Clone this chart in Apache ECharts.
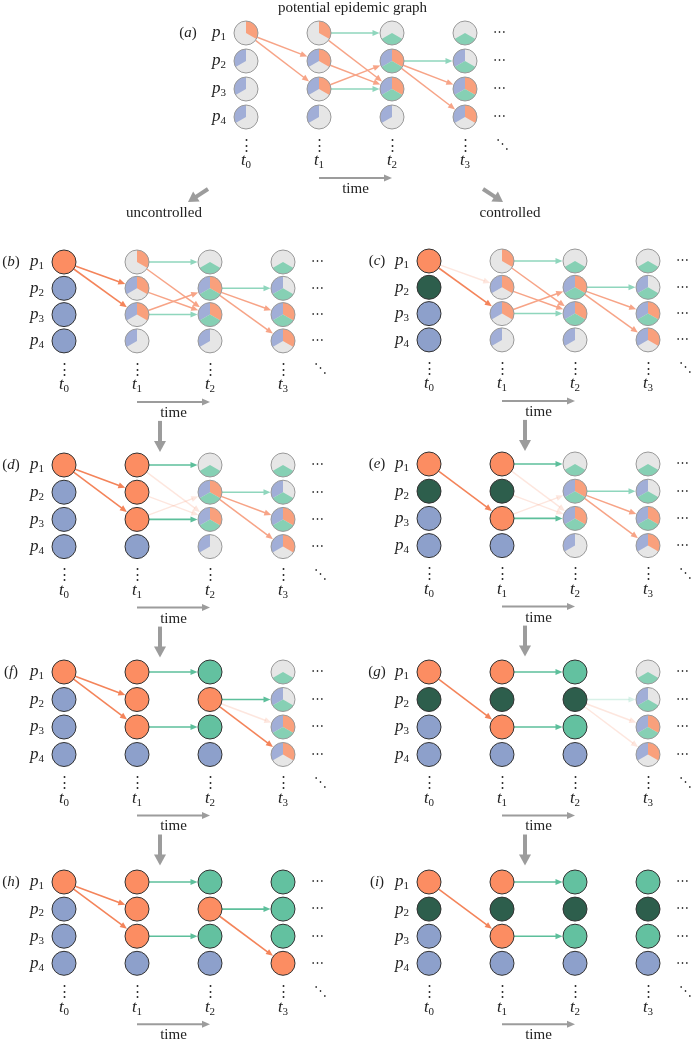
<!DOCTYPE html>
<html><head><meta charset="utf-8">
<script src="https://cdn.jsdelivr.net/npm/echarts@6/dist/echarts.min.js"></script>
<style>html,body{margin:0;padding:0;background:#fff}#c{width:696px;height:1043px}</style>
</head><body><div id="c"></div>
<script>
// ---------- data ----------
const personTicks = [1, 2, 3, 4];
const timeTicks = [0, 1, 2, 3];
const panelIds = ['a', 'b', 'c', 'd', 'e', 'f', 'g', 'h', 'i'];
const titleText = 'potential epidemic graph';
const branchLabels = ['uncontrolled', 'controlled'];
const timeLabel = 'time';

// node states, one array per time column (t0..t3), rows p1..p4
// I infected, S susceptible, R recovered, V vaccinated (full states)
// combos of o/b/g = potential states (orange / blue / green sectors)
const nodesA = [['o','b','b','b'], ['o','bo','bo','b'], ['g','bog','bog','b'], ['g','bg','bog','bo']];
const nodesB = [['I','S','S','S'], ['o','bo','bo','b'], ['g','bog','bog','b'], ['g','bg','bog','bo']];
const nodesC = [['I','V','S','S'], ['o','bo','bo','b'], ['g','bog','bog','b'], ['g','bg','bog','bo']];
const nodesD = [['I','S','S','S'], ['I','I','I','S'], ['g','bog','bog','b'], ['g','bg','bog','bo']];
const nodesE = [['I','V','S','S'], ['I','V','I','S'], ['g','bog','bog','b'], ['g','bg','bog','bo']];
const nodesF = [['I','S','S','S'], ['I','I','I','S'], ['R','I','R','S'], ['g','bg','bog','bo']];
const nodesG = [['I','V','S','S'], ['I','V','I','S'], ['R','V','R','S'], ['g','bg','bog','bo']];
const nodesH = [['I','S','S','S'], ['I','I','I','S'], ['R','I','R','S'], ['R','R','R','I']];
const nodesI = [['I','V','S','S'], ['I','V','I','S'], ['R','V','R','S'], ['R','V','R','S']];

// edges: [from t, from p, to t, to p, kind]
// O strong orange, o potential orange, f faint orange, G strong green, g potential green, h faint green
const edgesA = [[0,1,1,2,'o'],[0,1,1,3,'o'],[1,1,2,3,'o'],[1,2,2,3,'o'],[1,3,2,2,'o'],[1,1,2,1,'g'],[1,3,2,3,'g'],[2,2,3,2,'g'],[2,2,3,3,'o'],[2,2,3,4,'o']];
const edgesB = [[0,1,1,2,'O'],[0,1,1,3,'O'],[1,1,2,3,'o'],[1,2,2,3,'o'],[1,3,2,2,'o'],[1,1,2,1,'g'],[1,3,2,3,'g'],[2,2,3,2,'g'],[2,2,3,3,'o'],[2,2,3,4,'o']];
const edgesC = [[0,1,1,2,'f'],[0,1,1,3,'O'],[1,1,2,3,'o'],[1,2,2,3,'o'],[1,3,2,2,'o'],[1,1,2,1,'g'],[1,3,2,3,'g'],[2,2,3,2,'g'],[2,2,3,3,'o'],[2,2,3,4,'o']];
const edgesD = [[0,1,1,2,'O'],[0,1,1,3,'O'],[1,1,2,3,'f'],[1,2,2,3,'f'],[1,3,2,2,'f'],[1,1,2,1,'G'],[1,3,2,3,'G'],[2,2,3,2,'g'],[2,2,3,3,'o'],[2,2,3,4,'o']];
const edgesE = [[0,1,1,3,'O'],[1,1,2,3,'f'],[1,2,2,3,'f'],[1,3,2,2,'f'],[1,1,2,1,'G'],[1,3,2,3,'G'],[2,2,3,2,'g'],[2,2,3,3,'o'],[2,2,3,4,'o']];
const edgesF = [[0,1,1,2,'O'],[0,1,1,3,'O'],[1,1,2,1,'G'],[1,3,2,3,'G'],[2,2,3,2,'G'],[2,2,3,3,'f'],[2,2,3,4,'O']];
const edgesG = [[0,1,1,3,'O'],[1,1,2,1,'G'],[1,3,2,3,'G'],[2,2,3,2,'h'],[2,2,3,3,'f'],[2,2,3,4,'f']];
const edgesH = [[0,1,1,2,'O'],[0,1,1,3,'O'],[1,1,2,1,'G'],[1,3,2,3,'G'],[2,2,3,2,'G'],[2,2,3,4,'O']];
const edgesI = [[0,1,1,3,'O'],[1,1,2,1,'G'],[1,3,2,3,'G']];

const allNodes = [nodesA, nodesB, nodesC, nodesD, nodesE, nodesF, nodesG, nodesH, nodesI];
const allEdges = [edgesA, edgesB, edgesC, edgesD, edgesE, edgesF, edgesG, edgesH, edgesI];

// ---------- layout & style ----------
const DX = 73;
const layout = [
  {x0: 246, y1: 33,  dy: 28,   labDx: -58},
  {x0: 64,  y1: 262, dy: 26.3, labDx: -53},
  {x0: 429, y1: 261, dy: 26.3, labDx: -52},
  {x0: 64,  y1: 465, dy: 27.2, labDx: -53},
  {x0: 429, y1: 464, dy: 27.2, labDx: -52},
  {x0: 64,  y1: 672, dy: 27.5, labDx: -53},
  {x0: 429, y1: 672, dy: 27.5, labDx: -52},
  {x0: 64,  y1: 882, dy: 27.1, labDx: -53},
  {x0: 429, y1: 882, dy: 27.1, labDx: -52}
];
const downArrow = [false, true, true, true, true, true, true, false, false];
const FONT = "'Liberation Serif', 'DejaVu Serif', serif";
const R = 12;
const FULL = {I: '#fc8d62', S: '#8da0cb', R: '#63c1a0', V: '#2d5e4c'};
const PART = {o: '#f9a07c', b: '#a1aed7', g: '#86d0b4'};
const ANG = {o: [-Math.PI / 2, Math.PI / 6], g: [Math.PI / 6, 5 * Math.PI / 6], b: [5 * Math.PI / 6, 3 * Math.PI / 2]};
const EDGE = {
  O: {c: '#f4845a', w: 1.6},
  o: {c: '#f7a487', w: 1.5},
  f: {c: 'rgba(247,164,135,0.28)', w: 1.4},
  G: {c: '#5dbf9b', w: 1.6},
  g: {c: '#8fd6bd', w: 1.5},
  h: {c: 'rgba(143,214,189,0.35)', w: 1.4}
};
const GREY = '#9c9c9c';

const labelRich = {
  p: {fontFamily: FONT, fontStyle: 'italic', fontSize: 17, color: '#222', lineHeight: 20, verticalAlign: 'middle'},
  s: {fontFamily: FONT, fontSize: 11, color: '#222', lineHeight: 11, verticalAlign: 'bottom'}
};

function txt(x, y, text, size, family, extra) {
  return Object.assign({
    type: 'text', x: x, y: y,
    style: Object.assign({text: text, fontSize: size, fontFamily: family || FONT, fill: '#222', align: 'center', verticalAlign: 'middle'}, extra || {})
  });
}
function arrowEl(x1, y1, x2, y2, color, w, hl, hw) {
  const dx = x2 - x1, dy = y2 - y1, L = Math.hypot(dx, dy), ux = dx / L, uy = dy / L;
  const bx = x2 - ux * hl, by = y2 - uy * hl;
  return [
    {type: 'line', shape: {x1: x1, y1: y1, x2: bx + ux, y2: by + uy}, style: {stroke: color, lineWidth: w}},
    {type: 'polygon', shape: {points: [[x2, y2], [bx - uy * hw, by + ux * hw], [bx + uy * hw, by - ux * hw]]}, style: {fill: color}}
  ];
}

const grids = [], xAxes = [], yAxes = [], series = [];

layout.forEach((L, k) => {
  grids.push({left: L.x0, top: L.y1, width: 3 * DX, height: 3 * L.dy, containLabel: false, outerBoundsMode: 'none'});
  xAxes.push({
    gridIndex: k, type: 'value', min: 0, max: 3, interval: 1,
    axisLine: {show: false}, axisTick: {show: false}, splitLine: {show: false},
    axisLabel: {margin: 34, formatter: v => '{p|t}{s|' + timeTicks[v] + '}', rich: labelRich}
  });
  yAxes.push({
    gridIndex: k, type: 'value', min: 1, max: 4, interval: 1, inverse: true,
    axisLine: {show: false}, axisTick: {show: false}, splitLine: {show: false},
    axisLabel: {margin: 20, formatter: v => '{p|p}{s|' + personTicks[v - 1] + '}', rich: labelRich}
  });

  // edges
  const edges = allEdges[k];
  series.push({
    type: 'custom', xAxisIndex: k, yAxisIndex: k, z: 2, silent: true,
    encode: {x: [0, 2], y: [1, 3]},
    data: edges.map(e => [e[0], e[1], e[2], e[3]]),
    renderItem: function (params, api) {
      const e = edges[params.dataIndex];
      const a = api.coord([e[0], e[1]]), b = api.coord([e[2], e[3]]);
      const dx = b[0] - a[0], dy = b[1] - a[1], Ln = Math.hypot(dx, dy), ux = dx / Ln, uy = dy / Ln;
      const st = EDGE[e[4]];
      return {type: 'group', children: arrowEl(a[0] + ux * R, a[1] + uy * R, b[0] - ux * (R + 0.5), b[1] - uy * (R + 0.5), st.c, st.w, 7, 3)};
    }
  });

  // nodes
  const nodes = allNodes[k];
  const items = [];
  timeTicks.forEach((t, ti) => personTicks.forEach((p, pi) => items.push({value: [t, p], code: nodes[ti][pi]})));
  series.push({
    type: 'custom', xAxisIndex: k, yAxisIndex: k, z: 3, silent: true,
    data: items.map(it => it.value),
    renderItem: function (params, api) {
      const code = items[params.dataIndex].code;
      const c = api.coord(api.value(0) !== undefined ? [api.value(0), api.value(1)] : [0, 0]);
      if (FULL[code]) {
        return {type: 'circle', shape: {cx: c[0], cy: c[1], r: R}, style: {fill: FULL[code], stroke: '#333', lineWidth: 1}};
      }
      const ch = [{type: 'circle', shape: {cx: c[0], cy: c[1], r: R}, style: {fill: '#e6e6e6', stroke: null}}];
      code.split('').forEach(s => {
        ch.push({type: 'sector', shape: {cx: c[0], cy: c[1], r0: 0, r: R, startAngle: ANG[s][0], endAngle: ANG[s][1], clockwise: true}, style: {fill: PART[s], stroke: null}});
      });
      ch.push({type: 'circle', shape: {cx: c[0], cy: c[1], r: R}, style: {fill: null, stroke: '#9a9a9a', lineWidth: 1}});
      return {type: 'group', children: ch};
    }
  });

  // decorations
  series.push({
    type: 'custom', xAxisIndex: k, yAxisIndex: k, z: 1, silent: true,
    data: [[0, 1]],
    renderItem: function (params, api) {
      const ch = [];
      const xs = timeTicks.map(t => api.coord([t, 1])[0]);
      const ys = personTicks.map(p => api.coord([0, p])[1]);
      const bottom = ys[3], top = ys[0];
      xs.forEach(x => ch.push(txt(x, bottom + 29, '⋮', 15, "'DejaVu Serif'", {fill: '#333'})));
      ys.forEach(y => ch.push(txt(xs[3] + 34, y, '⋯', 13, "'DejaVu Serif'", {fill: '#444'})));
      ch.push(txt(xs[3] + 37, bottom + 28, '⋱', 13, "'DejaVu Serif'", {fill: '#444'}));
      arrowEl(xs[1], bottom + 61, xs[2], bottom + 61, GREY, 2, 8, 3.5).forEach(e => ch.push(e));
      ch.push(txt((xs[1] + xs[2]) / 2, bottom + 72, timeLabel, 15));
      ch.push({type: 'text', x: xs[0] + layout[k].labDx, y: top,
        style: {text: '({i|' + panelIds[k] + '})', fontSize: 15, fontFamily: FONT, fill: '#222', align: 'center', verticalAlign: 'middle',
          rich: {i: {fontStyle: 'italic', fontSize: 15, fontFamily: FONT, fill: '#222'}}}});
      if (downArrow[k]) {
        arrowEl(xs[1] + 23, bottom + 80, xs[1] + 23, bottom + 111, GREY, 4, 11, 6).forEach(e => ch.push(e));
      }
      if (k === 0) {
        ch.push(txt((xs[1] + xs[2]) / 2 - 3, top - 25, titleText, 15));
        arrowEl(xs[0] - 38, bottom + 72, xs[0] - 58, bottom + 85, GREY, 4, 10, 6).forEach(e => ch.push(e));
        arrowEl(xs[3] + 18, bottom + 72, xs[3] + 38, bottom + 85, GREY, 4, 10, 6).forEach(e => ch.push(e));
        ch.push(txt(xs[0] - 82, bottom + 96, branchLabels[0], 15));
        ch.push(txt(xs[3] + 45, bottom + 96, branchLabels[1], 15));
      }
      return {type: 'group', children: ch};
    }
  });
});

const chart = echarts.init(document.getElementById('c'), null, {renderer: 'canvas', width: 696, height: 1043});
chart.setOption({
  animation: false,
  backgroundColor: '#fff',
  grid: grids, xAxis: xAxes, yAxis: yAxes, series: series
});
</script></body></html>
